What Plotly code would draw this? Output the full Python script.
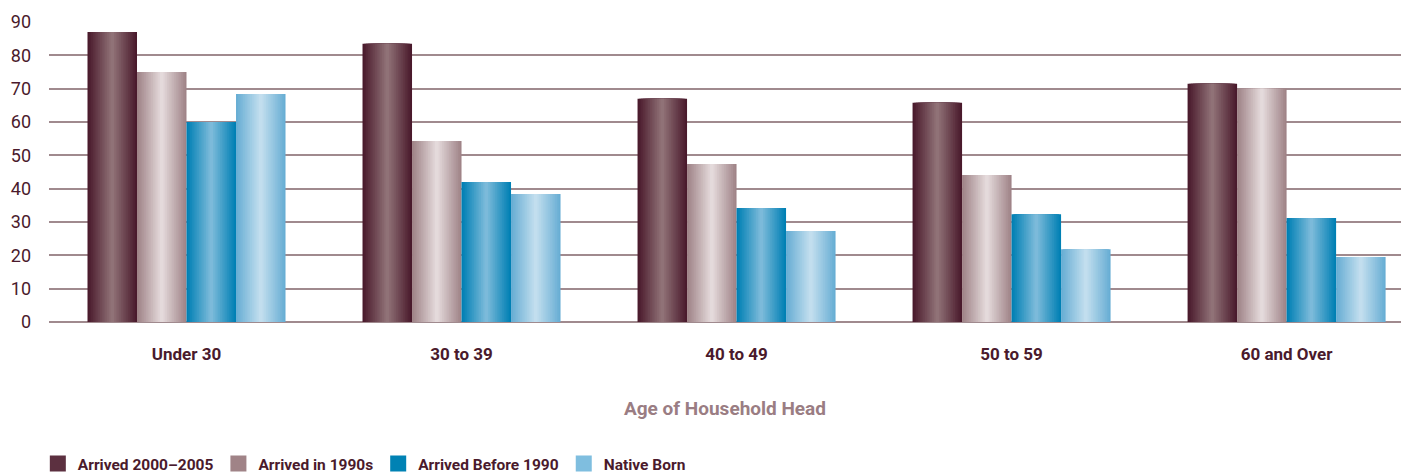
import plotly.graph_objects as go

categories = ["Under 30", "30 to 39", "40 to 49", "50 to 59", "60 and Over"]
series_names = ["Arrived 2000\u20132005", "Arrived in 1990s", "Arrived Before 1990", "Native Born"]
arrived_2000_2005 = [87.0, 83.5, 67.0, 65.8, 71.5]
arrived_1990s = [75.0, 54.3, 47.4, 44.1, 70.0]
arrived_before_1990 = [60.0, 42.0, 34.2, 32.3, 31.2]
native_born = [68.4, 38.4, 27.3, 21.8, 19.5]
y_ticks = [0, 10, 20, 30, 40, 50, 60, 70, 80, 90]

series_values = [arrived_2000_2005, arrived_1990s, arrived_before_1990, native_born]

# style: (edge colour, centre colour, legend colour)
styles = [
    ((0x4a, 0x1a, 0x2c), (0x90, 0x72, 0x77), "#5c3040"),
    ((0xa0, 0x84, 0x88), (0xe4, 0xda, 0xdb), "#a08387"),
    ((0x00, 0x80, 0xb4), (0x7c, 0xba, 0xda), "#0082b4"),
    ((0x68, 0xae, 0xd4), (0xc2, 0xde, 0xee), "#7fbedf"),
]

FONT = "Roboto"
TEXT_DARK = "#4a1a2c"
GRID = "#a08a8e"

bar_w = 0.18
n_steps = 14


def lerp(a, b, t):
    return "rgb(%d,%d,%d)" % tuple(round(a[i] + (b[i] - a[i]) * t) for i in range(3))


fig = go.Figure()
for si, (vals, name) in enumerate(zip(series_values, series_names)):
    edge, centre, legend_col = styles[si]
    centre_off = (si - 1.5) * bar_w
    for k in range(n_steps):
        t = k / (n_steps - 1)
        w = bar_w * (1 - k / n_steps)
        fig.add_trace(go.Bar(
            x=categories, y=vals, width=w, offset=centre_off - w / 2,
            marker=dict(color=lerp(edge, centre, t), line=dict(width=0)),
            showlegend=False, hoverinfo="skip" if k else None, name=name,
        ))
    fig.add_trace(go.Scatter(x=[None], y=[None], name=name, mode="markers",
                             marker=dict(symbol="square", size=16, color=legend_col,
                                         line=dict(width=0)),
                             showlegend=True))

fig.update_layout(
    width=1401, height=473,
    barmode="overlay",
    plot_bgcolor="white", paper_bgcolor="white",
    margin=dict(l=49, r=0, t=22, b=151, autoexpand=False),
    font=dict(family=FONT, color=TEXT_DARK, size=17),
    xaxis=dict(
        range=[-0.5, 4.416], showgrid=False, zeroline=False, showline=False,
        ticks="", ticklabelstandoff=20, automargin=False,
        tickfont=dict(family=FONT, size=17, color=TEXT_DARK, weight="bold"),
        title=dict(text="Age of Household Head", standoff=38,
                   font=dict(family=FONT, size=19, color="#9a7d83", weight="bold")),
    ),
    yaxis=dict(
        range=[0, 90], tickvals=y_ticks, showgrid=True, gridcolor=GRID, gridwidth=2,
        zeroline=True, zerolinecolor=GRID, zerolinewidth=2, showline=False,
        ticks="", ticklabelstandoff=17, automargin=False,
        tickfont=dict(family=FONT, size=18, color=TEXT_DARK),
    ),
    legend=dict(
        orientation="h", xref="container", yref="container",
        x=0.027, y=0.019, xanchor="left", yanchor="middle",
        font=dict(family=FONT, size=15.5, color=TEXT_DARK, weight="bold"),
        itemwidth=30, traceorder="normal", bgcolor="rgba(0,0,0,0)",
    ),
)

fig.write_html(
    "out.html",
    config={"displayModeBar": False},
    post_script="document.body.style.margin='0';document.body.style.overflow='hidden';",
)
